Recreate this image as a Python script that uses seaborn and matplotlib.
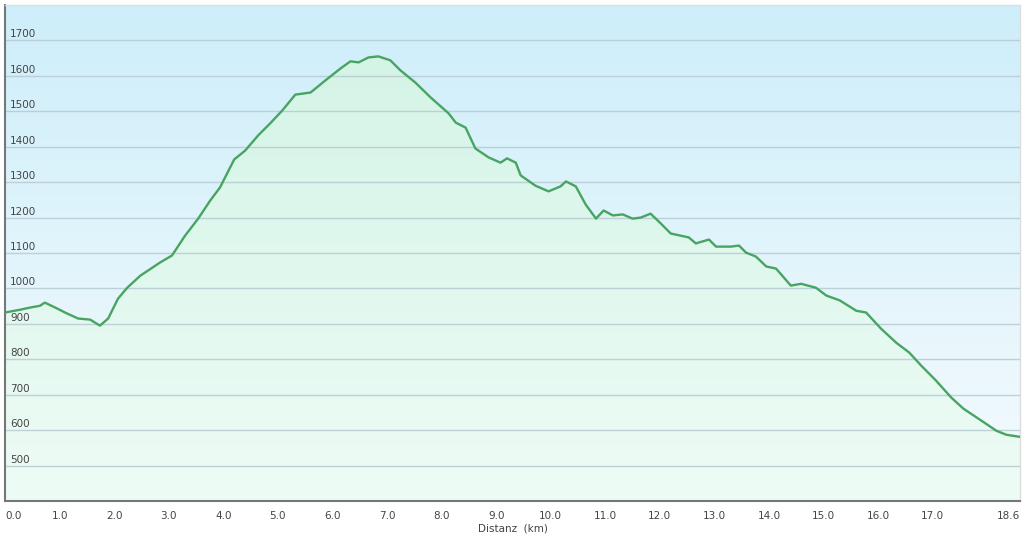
import numpy as np
import matplotlib
matplotlib.use("Agg")
import matplotlib.pyplot as plt
from matplotlib.colors import LinearSegmentedColormap
import matplotlib.transforms as mtransforms
import pandas as pd
import seaborn as sns

# Elevation profile (distance in km, elevation in m)
distance_km = [0.0, 0.28, 0.46, 0.64, 0.73, 0.92, 1.1, 1.34, 1.56, 1.74, 1.89, 2.07,
               2.24, 2.48, 2.84, 3.06, 3.3, 3.54, 3.76, 3.94, 4.2, 4.4, 4.64, 4.86,
               5.08, 5.32, 5.6, 5.87, 6.15, 6.33, 6.48, 6.66, 6.84, 7.06, 7.25, 7.52,
               7.8, 8.13, 8.26, 8.44, 8.62, 8.86, 9.08, 9.2, 9.36, 9.45, 9.72, 9.96,
               10.18, 10.28, 10.46, 10.64, 10.83, 10.97, 11.14, 11.32, 11.5, 11.65,
               11.83, 12.0, 12.2, 12.53, 12.66, 12.9, 13.03, 13.3, 13.45, 13.58,
               13.76, 13.95, 14.13, 14.4, 14.59, 14.86, 15.05, 15.3, 15.6, 15.78,
               16.05, 16.33, 16.57, 16.79, 17.06, 17.34, 17.56, 17.89, 18.17, 18.35, 18.6]
elevation_m = [932, 940, 946, 951, 960, 946, 932, 915, 912, 895, 915, 971,
               1002, 1036, 1073, 1093, 1149, 1197, 1248, 1285, 1364, 1389, 1432, 1466,
               1502, 1547, 1553, 1587, 1621, 1641, 1638, 1652, 1655, 1644, 1615, 1581,
               1539, 1494, 1468, 1454, 1395, 1370, 1355, 1367, 1355, 1319, 1290, 1274,
               1288, 1302, 1288, 1237, 1197, 1220, 1206, 1209, 1197, 1200,
               1211, 1186, 1155, 1144, 1127, 1138, 1118, 1118, 1121, 1101,
               1090, 1062, 1056, 1008, 1013, 1002, 980, 966, 937, 932,
               887, 847, 819, 782, 740, 692, 661, 627, 598, 587, 581]

x_ticks = [0, 1, 2, 3, 4, 5, 6, 7, 8, 9, 10, 11, 12, 13, 14, 15, 16, 17, 18.6]
x_tick_labels = ["0.0", "1.0", "2.0", "3.0", "4.0", "5.0", "6.0", "7.0", "8.0", "9.0",
                 "10.0", "11.0", "12.0", "13.0", "14.0", "15.0", "16.0", "17.0", "18.6"]
y_ticks = [500, 600, 700, 800, 900, 1000, 1100, 1200, 1300, 1400, 1500, 1600, 1700]

df = pd.DataFrame({"km": distance_km, "elev": elevation_m})

sns.set_style("white")
plt.rcParams["font.family"] = ["DejaVu Sans"]

fig = plt.figure(figsize=(10.24, 5.35), dpi=100)
ax = fig.add_axes([5 / 1024, 34 / 535, 1015 / 1024, 496 / 535])

x0, x1 = 0, 18.6
y0, y1 = 400, 1800
ax.set_xlim(x0, x1)
ax.set_ylim(y0, y1)

# Background gradient (light blue at top to near white at bottom)
bg_cmap = LinearSegmentedColormap.from_list("bg", ["#f6fbfd", "#cdeefa"])
grad = np.linspace(0, 1, 256).reshape(-1, 1)
ax.imshow(grad, cmap=bg_cmap, origin="lower", aspect="auto",
          extent=[x0, x1, y0, y1], zorder=0)

# Area fill gradient clipped to the area under the profile
fill = ax.fill_between(df["km"], df["elev"], y0, color="none", zorder=1)
fill_cmap = LinearSegmentedColormap.from_list("fill", ["#eefcf6", "#d4f4e6"])
img = ax.imshow(grad, cmap=fill_cmap, origin="lower", aspect="auto",
                extent=[x0, x1, y0, 1660], zorder=1)
img.set_clip_path(fill.get_paths()[0], transform=ax.transData)

# Grid lines
for v in y_ticks:
    ax.axhline(v, color="#b6cad2", linewidth=1, alpha=0.85, zorder=2)

sns.lineplot(data=df, x="km", y="elev", ax=ax, color="#48a463", linewidth=1.7, zorder=3)

# y labels sit inside the plot, just above each grid line
ax.set_yticks([])
label_tf = mtransforms.offset_copy(
    mtransforms.blended_transform_factory(ax.transAxes, ax.transData),
    fig=fig, x=5, y=1, units="dots")
for v in y_ticks:
    ax.text(0, v, str(v), transform=label_tf, ha="left", va="bottom",
            fontsize=7.5, color="#444444", zorder=5)

ax.set_xticks(x_ticks)
ax.set_xticklabels(x_tick_labels)
ax.tick_params(axis="x", direction="out", length=4, width=1, color="#777777",
               labelsize=7.5, labelcolor="#444444", pad=3)
xlabels = ax.get_xticklabels()
xlabels[0].set_horizontalalignment("left")
xlabels[-1].set_horizontalalignment("right")

ax.set_xlabel("Distanz  (km)", fontsize=7.5, color="#444444", labelpad=2)
ax.set_ylabel("")

for side in ["left", "bottom"]:
    ax.spines[side].set_color("#777777")
    ax.spines[side].set_linewidth(1.5)
for side in ["top", "right"]:
    ax.spines[side].set_color("#dddddd")
    ax.spines[side].set_linewidth(1)

fig.savefig("out.png", dpi=100)
